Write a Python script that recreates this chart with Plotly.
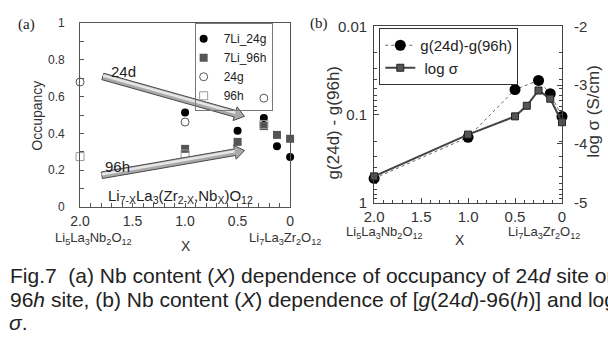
import plotly.graph_objects as go

W, H = 608, 340

# ---------------- data: panel (a) ----------------
x_li = [1.0, 0.5, 0.25, 0.125, 0.0]
li7_24g = [0.514, 0.415, 0.484, 0.33, 0.272]
li7_96h = [0.316, 0.354, 0.44, 0.392, 0.371]
x_occ = [2.0, 1.0, 0.25]
occ_24g = [0.68, 0.462, 0.592]
occ_96h = [0.274, 0.288, 0.449]

# ---------------- data: panel (b) ----------------
x_g = [2.0, 1.0, 0.5, 0.25, 0.125, 0.0]
g_diff = [0.53, 0.181, 0.052, 0.041, 0.058, 0.105]
x_s = [2.0, 1.0, 0.5, 0.375, 0.25, 0.125, 0.0]
log_sigma = [-4.55, -3.84, -3.53, -3.35, -3.09, -3.23, -3.63]

# ---------------- tick labels ----------------
x_tickvals = [2.0, 1.5, 1.0, 0.5, 0.0]
x_ticktext = ["2.0", "1.5", "1.0", "0.5", "0"]
occ_tickvals = [0, 0.2, 0.4, 0.6, 0.8, 1.0]
occ_ticktext = ["0", "0.2", "0.4", "0.6", "0.8", "1"]
g_tickvals = [0.01, 0.1, 1]
g_ticktext = ["0.01", "0.1", "1"]
s_tickvals = [-2, -3, -4, -5]
s_ticktext = ["-2", "-3", "-4", "-5"]

FONT = "Liberation Sans, Arial, sans-serif"
SERIF = "Liberation Serif, Times New Roman, serif"


def px(x):
    return x / W


def py(y):
    return 1 - y / H


fig = go.Figure()

# panel (a) traces
fig.add_trace(go.Scatter(x=x_li, y=li7_24g, mode="markers", name="7Li_24g",
                         marker=dict(symbol="circle", size=8, color="black"),
                         xaxis="x", yaxis="y", legend="legend", cliponaxis=False))
fig.add_trace(go.Scatter(x=x_li, y=li7_96h, mode="markers", name="7Li_96h",
                         marker=dict(symbol="square", size=8, color="#555555"),
                         xaxis="x", yaxis="y", legend="legend", cliponaxis=False))
fig.add_trace(go.Scatter(x=x_occ, y=occ_24g, mode="markers", name="24g",
                         marker=dict(symbol="circle-open", size=8, color="#555555",
                                     line=dict(width=1)),
                         xaxis="x", yaxis="y", legend="legend", cliponaxis=False))
fig.add_trace(go.Scatter(x=x_occ, y=occ_96h, mode="markers", name="96h",
                         marker=dict(symbol="square-open", size=8, color="#999999",
                                     line=dict(width=1)),
                         xaxis="x", yaxis="y", legend="legend", cliponaxis=False))

# panel (b) traces
fig.add_trace(go.Scatter(x=x_g, y=g_diff, mode="lines+markers", name="g(24d)-g(96h)",
                         line=dict(color="#666666", width=1, dash="dot"),
                         marker=dict(symbol="circle", size=11, color="black"),
                         xaxis="x2", yaxis="y2", legend="legend2", cliponaxis=False))
fig.add_trace(go.Scatter(x=x_s, y=log_sigma, mode="lines+markers", name=" log σ",
                         line=dict(color="#444444", width=2),
                         marker=dict(symbol="square", size=7, color="#555555",
                                     line=dict(color="#222222", width=1)),
                         xaxis="x2", yaxis="y3", legend="legend2", cliponaxis=False))

axis_common = dict(showgrid=False, zeroline=False, showline=True, ticks="inside")

fig.update_layout(
    width=W, height=H,
    margin=dict(l=0, r=0, t=0, b=0),
    paper_bgcolor="white", plot_bgcolor="white",
    font=dict(family=FONT, color="#222222"),
    xaxis=dict(axis_common, domain=[px(71.7), px(286.7)], range=[2.0, 0.0],
               anchor="y", linecolor="#555555", mirror=True, ticklen=4,
               tickcolor="#555555", tickvals=x_tickvals, ticktext=x_ticktext,
               tickfont=dict(size=14, color="#333333"), ticklabelstandoff=1,
               minor=dict(ticks="inside", ticklen=4, dtick=0.1, tickcolor="#555555")),
    yaxis=dict(axis_common, domain=[py(208.3), py(15)], range=[0, 1],
               anchor="x", linecolor="#555555", mirror=True, ticklen=4,
               tickcolor="#555555", tickvals=occ_tickvals, ticktext=occ_ticktext,
               tickfont=dict(size=12, color="#333333"), ticklabelstandoff=12,
               minor=dict(ticks="inside", ticklen=4, dtick=0.1, tickcolor="#555555")),
    xaxis2=dict(axis_common, domain=[px(372.7), px(565)], range=[2.0, 0.0],
                anchor="y2", linecolor="#444444", mirror=True, ticklen=5,
                tickcolor="#444444", tickvals=x_tickvals, ticktext=x_ticktext,
                tickfont=dict(size=15, color="#333333"), ticklabelstandoff=0,
                minor=dict(ticks="inside", ticklen=3, dtick=0.1, tickcolor="#444444")),
    yaxis2=dict(axis_common, domain=[py(204), py(18.3)], type="log", range=[0, -2],
                anchor="x2", linecolor="#444444", mirror="ticks", ticklen=5,
                tickcolor="#444444", tickvals=g_tickvals, ticktext=g_ticktext,
                tickfont=dict(size=15, color="#333333"), ticklabelstandoff=3,
                minor=dict(ticks="inside", ticklen=3, dtick="D1", tickcolor="#444444")),
    yaxis3=dict(axis_common, overlaying="y2", side="right", anchor="x2",
                range=[-5, -2], linecolor="#444444", ticklen=5, tickcolor="#444444",
                tickvals=s_tickvals, ticktext=s_ticktext,
                tickfont=dict(size=15, color="#333333"), ticklabelstandoff=8),
    legend=dict(x=px(189), y=py(15), xanchor="left", yanchor="top",
                bgcolor="rgba(255,255,255,0)", bordercolor="#777777", borderwidth=1,
                font=dict(size=12, color="#222222"), itemwidth=30,
                indentation=-12, tracegroupgap=0),
    legend2=dict(x=px(378), y=py(20), xanchor="left", yanchor="top",
                 bgcolor="white", bordercolor="#333333", borderwidth=1,
                 font=dict(size=15, color="#222222"), itemwidth=30),
    showlegend=True,
)


# ---------------- decorative block arrows in panel (a) ----------------
def arrow_shapes(p0, p1, w=3.5, h=7.5, L=10):
    x0, y0 = p0
    x1, y1 = p1
    dx, dy = x1 - x0, y1 - y0
    d = (dx * dx + dy * dy) ** 0.5
    ux, uy = dx / d, dy / d
    nx, ny = -uy, ux
    bx, by = x1 - ux * L, y1 - uy * L
    pts = [(x0 + nx * w, y0 + ny * w), (bx + nx * w, by + ny * w),
           (bx + nx * h, by + ny * h), (x1, y1),
           (bx - nx * h, by - ny * h), (bx - nx * w, by - ny * w),
           (x0 - nx * w, y0 - ny * w)]
    path = "M " + " L ".join(f"{px(a):.5f},{py(b):.5f}" for a, b in pts) + " Z"
    # lighter upper stripe for a gradient-like look
    s = -0.2
    hi = [(x0 - nx * (w - 1.2), y0 - ny * (w - 1.2)), (bx - nx * (w - 1.2), by - ny * (w - 1.2)),
          (bx - nx * s, by - ny * s), (x0 - nx * s, y0 - ny * s)]
    path2 = "M " + " L ".join(f"{px(a):.5f},{py(b):.5f}" for a, b in hi) + " Z"
    return [dict(type="path", xref="paper", yref="paper", path=path,
                 fillcolor="#a9a9a9", line=dict(color="#4a4a4a", width=1), layer="above"),
            dict(type="path", xref="paper", yref="paper", path=path2,
                 fillcolor="#e6e6e6", line=dict(width=0), layer="above")]


shapes = []
shapes += arrow_shapes((95, 71), (240, 113))
shapes += arrow_shapes((94, 175), (240, 149))
fig.update_layout(shapes=shapes)


def ann(x, y, text, size, family=FONT, xanchor="center", yanchor="middle",
        angle=0, color="#222222"):
    fig.add_annotation(x=px(x), y=py(y), xref="paper", yref="paper", text=text,
                       showarrow=False, xanchor=xanchor, yanchor=yanchor,
                       textangle=angle, font=dict(size=size, family=family, color=color))


# panel labels
ann(17, 16, "(a)", 15, family=SERIF)
ann(316, 15, "(b)", 15, family=SERIF)

# axis titles
ann(28, 112, "Occupancy", 14, angle=-90, color="#333333")
ann(331, 120, "g(24d) - g(96h)", 17, angle=-90, color="#333333")
ann(597, 108, "log σ (S/cm)", 17, angle=-90, color="#333333")

# arrow labels and formula
ann(116, 66, "24d", 15)
ann(110, 166, "96h", 15)
ann(175, 197, "Li<sub>7-X</sub>La<sub>3</sub>(Zr<sub>2-X</sub>,Nb<sub>X</sub>)O<sub>12</sub>", 15)

# composition labels below axes
ann(85, 242, "Li<sub>5</sub>La<sub>3</sub>Nb<sub>2</sub>O<sub>12</sub>", 13, color="#333333")
ann(180, 249, "X", 14, color="#333333")
ann(281, 242, "Li<sub>7</sub>La<sub>3</sub>Zr<sub>2</sub>O<sub>12</sub>", 13, color="#333333")
ann(383, 235, "Li<sub>5</sub>La<sub>3</sub>Nb<sub>2</sub>O<sub>12</sub>", 13, color="#333333")
ann(461, 243, "X", 14, color="#333333")
ann(547, 235, "Li<sub>7</sub>La<sub>3</sub>Zr<sub>2</sub>O<sub>12</sub>", 13, color="#333333")

# caption
cap1 = "Fig.7  (a) Nb content (<i>X</i>) dependence of occupancy of 24<i>d</i> site or"
cap2 = "96<i>h</i> site, (b) Nb content (<i>X</i>) dependence of [<i>g</i>(24<i>d</i>)-96(<i>h</i>)] and log"
cap3 = "<i>σ</i>."
ann(-2, 281, cap1, 21, xanchor="left")
ann(-2, 306, cap2, 21, xanchor="left")
ann(-3, 330, cap3, 21, xanchor="left")

fig.write_html("out.html")
